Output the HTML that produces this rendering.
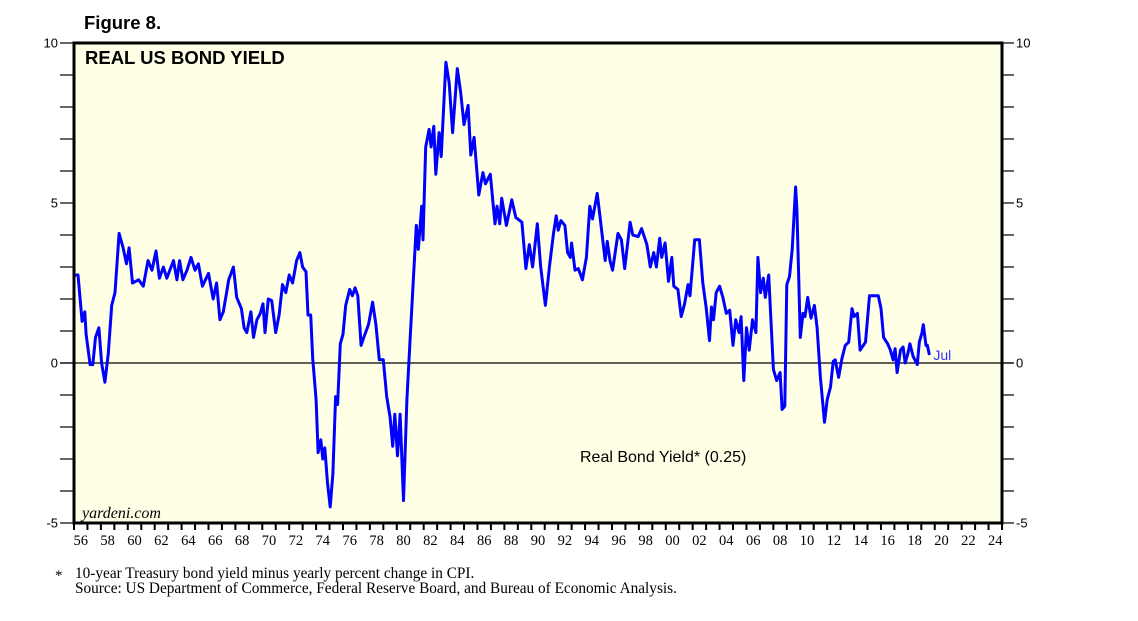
<!DOCTYPE html>
<html><head><meta charset="utf-8"><style>
body{margin:0;background:#fff;width:1138px;height:621px;overflow:hidden}
svg{display:block}
</style></head><body>
<svg id="chart" width="1138" height="621" xmlns="http://www.w3.org/2000/svg">
<text x="84" y="29" font-family="Liberation Sans, sans-serif" font-weight="bold" font-size="18.5">Figure 8.</text>
<rect x="74" y="43" width="928" height="480" fill="#ffffe6"/>
<g id="axes"></g>
<g id="series"></g>
<rect x="74" y="43" width="928" height="480" fill="none" stroke="#000" stroke-width="3"/>
<text x="85" y="64" font-family="Liberation Sans, sans-serif" font-weight="bold" font-size="18.5">REAL US BOND YIELD</text>
<text x="82" y="518" font-family="Liberation Serif, serif" font-style="italic" font-size="16">yardeni.com</text>
<text x="580" y="462" font-family="Liberation Sans, sans-serif" font-size="16">Real Bond Yield* (0.25)</text>
<text x="55" y="580" font-family="Liberation Serif, serif" font-size="15">*</text>
<text x="75" y="578" font-family="Liberation Serif, serif" font-size="15.3">10-year Treasury bond yield minus yearly percent change in CPI.</text>
<text x="75" y="593" font-family="Liberation Serif, serif" font-size="15.3">Source: US Department of Commerce, Federal Reserve Board, and Bureau of Economic Analysis.</text>
</svg>
<script>
const years=[1956.0,1956.3,1956.6,1956.8,1956.9,1957.2,1957.4,1957.6,1957.85,1958.05,1958.3,1958.55,1958.8,1959.05,1959.35,1959.65,1959.9,1960.1,1960.35,1960.8,1961.15,1961.5,1961.8,1962.1,1962.35,1962.65,1962.9,1963.4,1963.65,1963.85,1964.1,1964.4,1964.7,1965.0,1965.25,1965.55,1966.0,1966.35,1966.6,1966.85,1967.1,1967.35,1967.5,1967.85,1968.1,1968.45,1968.65,1968.85,1969.15,1969.35,1969.6,1969.85,1970.05,1970.2,1970.45,1970.7,1971.0,1971.25,1971.5,1971.75,1972.0,1972.25,1972.55,1972.8,1973.0,1973.25,1973.4,1973.6,1973.75,1974.0,1974.15,1974.35,1974.5,1974.65,1974.85,1975.05,1975.25,1975.45,1975.6,1975.8,1976.0,1976.2,1976.5,1976.7,1976.9,1977.1,1977.35,1977.55,1977.9,1978.2,1978.45,1978.7,1979.0,1979.25,1979.5,1979.7,1979.85,1980.05,1980.25,1980.5,1980.75,1981.0,1981.45,1981.6,1981.85,1981.95,1982.15,1982.4,1982.55,1982.75,1982.9,1983.15,1983.3,1983.65,1983.9,1984.15,1984.5,1984.75,1985.0,1985.3,1985.5,1985.75,1986.1,1986.4,1986.6,1986.95,1987.3,1987.45,1987.65,1987.8,1988.15,1988.55,1988.85,1989.3,1989.6,1989.85,1990.1,1990.45,1990.7,1991.05,1991.35,1991.65,1991.85,1992.0,1992.2,1992.5,1992.7,1992.9,1993.0,1993.25,1993.5,1993.8,1994.1,1994.35,1994.55,1994.9,1995.1,1995.5,1995.65,1995.85,1996.05,1996.45,1996.7,1996.95,1997.35,1997.55,1997.95,1998.2,1998.6,1998.85,1999.1,1999.3,1999.55,1999.7,1999.95,2000.2,2000.45,2000.6,2000.9,2001.15,2001.4,2001.65,2001.8,2002.15,2002.5,2002.75,2003.0,2003.25,2003.4,2003.55,2003.75,2004.0,2004.25,2004.5,2004.75,2005.0,2005.2,2005.45,2005.6,2005.8,2006.0,2006.2,2006.45,2006.7,2006.85,2007.05,2007.25,2007.4,2007.65,2008.0,2008.25,2008.5,2008.65,2008.85,2009.0,2009.2,2009.4,2009.65,2009.75,2010.0,2010.2,2010.35,2010.55,2010.8,2011.05,2011.25,2011.5,2011.8,2012.0,2012.25,2012.45,2012.6,2012.85,2013.1,2013.35,2013.6,2013.85,2014.0,2014.25,2014.45,2014.85,2015.15,2015.45,2015.8,2016.0,2016.2,2016.5,2016.7,2016.9,2017.05,2017.2,2017.45,2017.65,2017.8,2018.0,2018.15,2018.4,2018.7,2018.85,2019.05,2019.15,2019.35,2019.45,2019.6];
const yields=[2.75,2.75,1.3,1.6,0.9,-0.05,-0.05,0.8,1.1,0,-0.6,0.3,1.8,2.2,4.05,3.6,3.1,3.6,2.5,2.6,2.4,3.2,2.9,3.5,2.65,3.0,2.65,3.2,2.6,3.2,2.6,2.9,3.3,2.9,3.1,2.4,2.8,2.0,2.5,1.35,1.6,2.2,2.6,3.0,2.05,1.7,1.1,0.95,1.6,0.8,1.35,1.55,1.85,0.95,2.0,1.95,0.95,1.5,2.45,2.2,2.75,2.5,3.2,3.45,3.0,2.85,1.5,1.5,0.15,-1.15,-2.8,-2.4,-3.0,-2.65,-3.75,-4.5,-3.45,-1.05,-1.3,0.6,0.9,1.8,2.3,2.1,2.35,2.1,0.55,0.8,1.2,1.9,1.2,0.1,0.1,-1.05,-1.7,-2.6,-1.6,-2.9,-1.6,-4.3,-1.15,0.8,4.3,3.55,4.9,3.85,6.75,7.3,6.75,7.4,5.9,7.2,6.45,9.4,8.75,7.2,9.2,8.45,7.45,8.05,6.5,7.05,5.25,5.95,5.6,5.9,4.35,4.9,4.35,5.15,4.3,5.1,4.55,4.4,2.95,3.7,3.0,4.35,3.0,1.8,3.0,4.05,4.6,4.15,4.45,4.3,3.45,3.3,3.75,2.9,2.95,2.6,3.3,4.9,4.5,5.3,4.6,3.2,3.8,3.2,2.9,4.05,3.85,2.95,4.4,4.0,3.95,4.2,3.7,3.0,3.45,3.0,3.9,3.3,3.75,2.55,3.3,2.4,2.3,1.45,1.85,2.45,2.1,3.85,3.85,2.5,1.75,0.7,1.75,1.35,2.2,2.4,2.05,1.55,1.65,0.55,1.35,0.95,1.45,-0.55,1.1,0.4,1.35,0.95,3.3,2.2,2.65,2.05,2.75,-0.2,-0.55,-0.3,-1.45,-1.35,2.45,2.7,3.55,5.5,4.8,0.8,1.55,1.45,2.05,1.4,1.8,1.1,-0.45,-1.85,-1.15,-0.75,0.05,0.1,-0.45,0.15,0.55,0.65,1.7,1.45,1.55,0.4,0.65,2.1,2.1,2.1,1.7,0.8,0.6,0.4,0.1,0.45,-0.3,0.4,0.5,0.0,0.3,0.6,0.2,-0.05,0.65,0.95,1.2,0.55,0.55,0.25];
const yTicks=[10,5,0,-5];
const xLabels=['56','58','60','62','64','66','68','70','72','74','76','78','80','82','84','86','88','90','92','94','96','98','00','02','04','06','08','10','12','14','16','18','20','22','24'];

const NS='http://www.w3.org/2000/svg';
const X0=74,X1=1002,Y0=43,Y1=523,YR0=1956,YR1=2025,VMIN=-5,VMAX=10;
const xs=y=>X0+(y-YR0)/(YR1-YR0)*(X1-X0);
const ys=v=>Y1-(v-VMIN)/(VMAX-VMIN)*(Y1-Y0);
function mk(tag,attrs,parent){const e=document.createElementNS(NS,tag);for(const k in attrs)e.setAttribute(k,attrs[k]);parent.appendChild(e);return e;}
const axes=document.getElementById('axes');
for(let v=VMIN;v<=VMAX;v++){
  const y=ys(v);
  const t1=mk('line',{x1:60,x2:X0,y1:y,y2:y,stroke:'#000','stroke-width':1.2},axes);
  
  
  const t2=mk('line',{x1:X1,x2:1014,y1:y,y2:y,stroke:'#000','stroke-width':1.2},axes);
  
  
}
yTicks.forEach(v=>{
  const y=ys(v);
  const a=mk('text',{x:58,y:y+4.5,'text-anchor':'end','font-family':'Liberation Sans, sans-serif','font-size':13},axes);
  a.textContent=v;
  
  
  const b=mk('text',{x:1016,y:y+4.5,'font-family':'Liberation Sans, sans-serif','font-size':13},axes);
  b.textContent=v;
  
  
});
const zl=mk('line',{x1:60,x2:1014,y1:ys(0),y2:ys(0),stroke:'#000','stroke-width':1.2},axes);


for(let yr=YR0;yr<=YR1;yr++){
  const x=xs(yr);
  const t=mk('line',{x1:x,x2:x,y1:Y1,y2:Y1+7,stroke:'#000','stroke-width':2},axes);
  
  
}
xLabels.forEach((l,i)=>{
  const yr=YR0+2*i;
  const t=mk('text',{x:(xs(yr)+xs(yr+1))/2,y:545,'text-anchor':'middle','font-family':'Liberation Serif, serif','font-size':14.5},axes);
  t.textContent=l;
  
  
});
const series=document.getElementById('series');
const d=years.map((y,i)=>(i?'L':'M')+xs(y).toFixed(1)+','+ys(yields[i]).toFixed(1)).join(' ');
const p=mk('path',{d:d,fill:'none',stroke:'#0000ff','stroke-width':3,'stroke-linejoin':'round'},series);


const last=years.length-1;
const jl=mk('text',{x:xs(years[last])+4,y:ys(yields[last])+5,'font-family':'Liberation Sans, sans-serif','font-size':14,fill:'#3333ff'},series);
jl.textContent='Jul';


</script>
</body></html>
